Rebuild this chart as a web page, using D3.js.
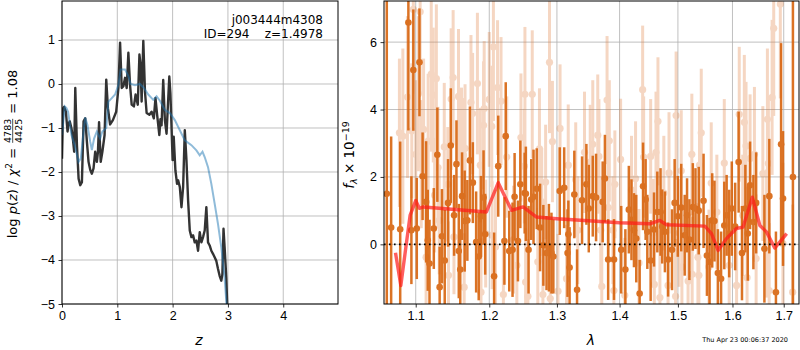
<!DOCTYPE html>
<html>
<head>
<meta charset="utf-8">
<script src="https://cdn.jsdelivr.net/npm/d3@7"></script>
<style>
body{margin:0;background:#fff}
svg{font-family:"DejaVu Sans",sans-serif}
.tick text{font-size:12.5px;fill:#000}
.tick line{stroke:#000;stroke-width:0.8}
.domain{display:none}
</style>
</head>
<body>
<svg id="fig" width="800" height="350"></svg>
<script>
// left panel: log p(z)
var zTicks = [0, 1, 2, 3, 4]
var pzTicks = [1, 0, -1, -2, -3, -4, -5]
var pzLine = [[0.00,-1.70],[0.02,-0.55],[0.04,-0.52],[0.07,-0.63],[0.10,-1.08],[0.12,-0.90],[0.14,-0.85],[0.17,-1.00],
  [0.19,-1.16],[0.22,-1.54],[0.24,-0.09],[0.27,-1.39],[0.30,-2.15],[0.33,-2.30],[0.36,-2.23],[0.39,-0.85],[0.42,-0.78],
  [0.45,-1.31],[0.48,-1.77],[0.51,-1.95],[0.54,-2.04],[0.57,-1.92],[0.60,-1.54],[0.63,-1.77],[0.65,-1.54],[0.67,-0.87],
  [0.70,-1.77],[0.73,-1.54],[0.77,-1.16],[0.80,0.10],[0.83,-0.55],[0.87,-0.92],[0.92,-0.82],[0.98,-0.63],[1.02,-0.09],
  [1.05,0.94],[1.08,-0.09],[1.11,-0.05],[1.14,0.14],[1.17,-0.09],[1.20,0.71],[1.23,-0.02],[1.26,-0.47],[1.30,-0.51],
  [1.33,-0.24],[1.37,-0.47],[1.40,0.67],[1.42,0.44],[1.44,-0.40],[1.47,0.98],[1.50,-0.17],[1.53,-0.66],[1.58,-0.70],
  [1.62,-0.63],[1.66,-0.78],[1.69,-0.32],[1.72,-0.70],[1.76,-1.16],[1.78,-0.80],[1.80,-0.94],[1.83,0.09],[1.86,-0.82],
  [1.89,-1.13],[1.94,0.17],[1.96,-0.21],[2.00,-1.73],[2.02,-1.20],[2.05,-1.96],[2.08,-2.27],[2.10,-2.19],[2.13,-2.34],
  [2.16,-2.80],[2.19,-2.34],[2.22,-1.05],[2.25,-1.73],[2.28,-2.65],[2.31,-3.33],[2.34,-3.48],[2.37,-3.44],[2.40,-3.60],
  [2.43,-3.56],[2.46,-3.79],[2.49,-3.37],[2.52,-3.60],[2.55,-3.48],[2.58,-3.33],[2.61,-2.80],[2.64,-3.60],[2.67,-3.67],
  [2.70,-3.79],[2.73,-3.86],[2.76,-3.94],[2.79,-4.02],[2.82,-4.20],[2.85,-4.36],[2.88,-4.47],[2.90,-4.32],[2.92,-3.29],
  [2.94,-3.71],[2.97,-4.40],[2.99,-5.10],[3.00,-5.50]]
var priorLine = [[0.00,-1.16],[0.05,-0.51],[0.08,-0.55],[0.11,-0.63],[0.17,-1.16],[0.23,-1.39],[0.30,-1.77],[0.34,-1.69],
  [0.39,-1.08],[0.42,-0.76],[0.46,-0.93],[0.51,-1.31],[0.54,-1.50],[0.58,-1.24],[0.63,-1.08],[0.69,-1.24],[0.73,-1.08],
  [0.80,-1.00],[0.84,-0.40],[0.90,-0.32],[0.96,-0.24],[1.02,-0.02],[1.06,0.33],[1.14,0.33],[1.20,0.18],[1.24,0.00],
  [1.32,-0.03],[1.41,0.00],[1.48,-0.09],[1.56,-0.24],[1.65,-0.36],[1.71,-0.28],[1.77,-0.38],[1.86,-0.59],[1.95,-0.66],
  [2.04,-0.82],[2.13,-1.05],[2.22,-1.28],[2.34,-1.39],[2.43,-1.51],[2.49,-1.62],[2.54,-1.54],[2.58,-1.66],[2.64,-1.89],
  [2.70,-2.27],[2.76,-2.72],[2.82,-3.18],[2.88,-3.71],[2.94,-4.40],[2.97,-4.93],[2.99,-5.30]]

// right panel: spectrum  [lambda, flux, err]
var lamTicks = [1.1, 1.2, 1.3, 1.4, 1.5, 1.6, 1.7]
var fluxTicks = [0, 2, 4, 6]
var lightPts = [[1.079,3.31,2.2],[1.0834,3.21,2.6],[1.0893,4.37,2.4],[1.0949,3.37,2.0],[1.0969,6.97,2.5],[1.100,2.67,2.2],
  [1.1035,4.47,2.3],[1.1058,6.9,2.4],[1.1072,2.38,1.9],[1.1103,3.41,2.1],[1.1136,-0.38,1.8],[1.1163,3.06,2.0],
  [1.1204,5.05,2.3],[1.1231,4.43,2.0],[1.1249,1.46,1.7],[1.1272,4.92,2.2],[1.1294,2.28,1.8],[1.131,0.71,1.6],
  [1.1378,2.89,1.9],[1.1425,1.78,1.7],[1.1435,-0.92,1.6],[1.1471,4.31,2.1],[1.1498,4.95,2.0],[1.1509,0.22,1.7],
  [1.1571,4.39,2.0],[1.1612,2.85,1.8],[1.1639,2.64,1.7],[1.1649,-1.27,1.6],[1.1661,2.85,1.9],[1.1743,4.21,2.0],
  [1.1766,3.88,1.8],[1.1833,4.77,2.1],[1.1874,2.35,1.7],[1.1883,-1.42,1.6],[1.1919,3.53,1.9],[1.1928,4.03,2.0],
  [1.1949,0.32,1.6],[1.2,4.3,2.0],[1.2035,3.5,1.8],[1.204,0.27,1.6],[1.2059,5.86,2.2],[1.2089,-0.08,1.7],
  [1.2118,4.65,2.0],[1.2168,4.25,1.9],[1.2202,-1.49,1.6],[1.2251,2.59,1.8],[1.2349,0.14,1.6],[1.2398,-0.62,1.7],
  [1.2458,3.17,1.9],[1.2508,2.32,1.7],[1.2517,4.45,2.0],[1.2527,-1.12,1.6],[1.2561,-1.54,1.7],[1.2626,4.45,1.9],
  [1.2709,-0.52,1.6],[1.2734,2.83,1.8],[1.2768,1.26,1.6],[1.2786,-1.49,1.7],[1.2827,1.85,1.7],[1.2886,5.4,2.1],
  [1.2898,-1.61,1.6],[1.2931,3.05,1.8],[1.3016,-1.39,1.7],[1.3048,3.44,1.9],[1.3148,-1.02,1.6],[1.3175,2.35,1.8],
  [1.3292,1.92,1.7],[1.3324,0.42,1.6],[1.3431,2.73,1.8],[1.3522,2.44,1.7],[1.3563,2.97,1.9],[1.3643,3.24,1.8],
  [1.3662,2.61,1.7],[1.3692,0.42,1.6],[1.3708,-1.25,1.7],[1.3794,4.28,1.9],[1.3815,1.09,1.6],[1.3831,3.07,1.8],
  [1.389,0.42,1.6],[1.3906,-1.37,1.7],[1.3922,1.78,1.6],[1.4017,2.52,1.8],[1.4086,-1.51,1.7],[1.4199,1.62,1.6],
  [1.4267,1.95,1.7],[1.4325,-0.55,1.6],[1.4387,4.59,1.9],[1.4404,2.59,1.8],[1.4524,2.61,1.7],[1.457,0.34,1.6],
  [1.4587,-1.19,1.7],[1.4616,2.73,1.8],[1.465,3.65,1.9],[1.4684,-1.58,1.6],[1.4752,1.52,1.7],[1.4826,-1.22,1.6],
  [1.4843,2.12,1.8],[1.4958,-1.54,1.7],[1.4968,3.82,1.9],[1.5022,0.34,1.6],[1.5059,2.18,1.8],[1.5071,-0.67,1.7],
  [1.5181,-1.09,1.6],[1.5249,2.67,1.8],[1.5255,-0.89,1.7],[1.5359,-0.38,1.6],[1.5377,-0.92,1.7],[1.5388,2.35,1.8],
  [1.542,3.31,1.9],[1.5561,-0.67,1.7],[1.5603,1.82,1.8],[1.5707,0.96,1.7],[1.5846,2.41,1.9],[1.5938,-0.62,1.8],
  [1.6078,-1.22,1.8],[1.6129,3.86,2.0],[1.6195,0.86,1.8],[1.6226,3.62,2.0],[1.6259,2.92,1.9],[1.6279,-0.99,1.8],
  [1.6337,2.55,1.9],[1.6421,2.67,2.0],[1.6454,-0.42,1.9],[1.6585,2.1,2.0],[1.6659,0.32,1.9],[1.6675,3.71,2.1],
  [1.6694,2.4,2.0],[1.671,-1.37,2.0],[1.6768,4.36,2.3],[1.68,6.41,2.6],[1.6932,7.13,2.8],[1.6984,0.02,2.4],
  [1.718,-1.42,2.6]]
var darkPts = [[1.063,1.5,9],[1.0685,0.5,2.7],[1.080,0.45,2.6],[1.0905,6.58,3.2],[1.0944,0.42,1.6],[1.0969,5.17,1.8],
  [1.1014,0.47,1.5],[1.1049,5.4,1.6],[1.109,2.02,1.3],[1.1136,1.26,1.8],[1.1158,0.12,1.5],[1.1181,-0.57,1.3],
  [1.1238,0.47,1.2],[1.1285,2.66,1.4],[1.1316,-1.27,1.2],[1.1347,0.24,1.4],[1.1384,-0.48,1.5],[1.1429,1.23,1.3],
  [1.1466,2.93,1.7],[1.1511,0.86,1.2],[1.1543,2.38,1.3],[1.1575,-0.2,1.4],[1.1595,-0.75,1.2],[1.162,1.43,1.3],
  [1.1656,0.69,1.5],[1.1693,0.71,1.2],[1.1728,2.49,1.6],[1.1769,1.83,1.2],[1.1815,0.07,1.5],[1.1851,-0.36,1.3],
  [1.1883,0.83,1.2],[1.1919,1.39,1.4],[1.1942,0.3,1.2],[1.2069,-0.95,1.3],[1.2128,2.32,1.5],[1.2217,0.1,1.3],
  [1.2236,3.21,1.6],[1.2287,-0.2,1.2],[1.2335,-0.16,1.4],[1.2365,1.41,1.3],[1.2414,0.1,1.2],[1.2449,1.78,1.3],
  [1.2513,1.52,1.2],[1.2531,1.5,1.4],[1.2571,-0.16,1.3],[1.2611,1.33,1.2],[1.2645,1.41,1.4],[1.2693,1.65,1.2],
  [1.2743,0.5,1.3],[1.2793,-0.03,1.2],[1.2841,-0.26,1.1],[1.2877,-0.1,1.3],[1.2916,-0.26,1.2],[1.2945,-0.36,1.1],
  [1.3043,1.58,1.3],[1.3112,1.68,1.2],[1.3164,-0.26,1.3],[1.3177,0.3,1.0],[1.3196,-0.69,1.2],[1.327,1.48,1.3],
  [1.3313,-1.35,1.2],[1.3392,1.31,1.3],[1.3461,1.78,1.2],[1.3499,1.06,1.3],[1.3563,1.43,1.2],[1.3616,1.39,1.3],
  [1.3723,1.26,1.2],[1.3759,1.95,1.3],[1.3812,-0.45,1.2],[1.3908,-0.45,1.2],[1.4027,-0.16,1.3],[1.4096,-0.75,1.2],
  [1.4154,1.03,1.3],[1.4198,0.73,1.2],[1.424,0.42,1.1],[1.4279,0.17,1.3],[1.4336,-1.46,1.0],[1.4394,1.72,1.3],
  [1.4438,1.33,1.2],[1.4467,0.37,1.1],[1.4524,-0.48,1.2],[1.4582,0.44,1.1],[1.4639,0.96,1.2],[1.4695,0.96,1.3],
  [1.4724,0.53,1.1],[1.4771,0.37,1.2],[1.4827,-0.45,1.1],[1.4896,-0.16,1.2],[1.4942,1.23,1.3],[1.4998,0.83,1.2],
  [1.5059,1.09,1.3],[1.5121,0.27,1.2],[1.5163,0.86,1.1],[1.5205,0.14,1.2],[1.5267,1.11,1.3],[1.5315,1.06,1.2],
  [1.5374,1.0,1.3],[1.5462,1.29,1.4],[1.5524,-0.33,1.2],[1.5572,-0.52,1.3],[1.5621,0.71,1.4],[1.5663,0.69,1.2],
  [1.5726,-0.85,1.3],[1.5786,-1.02,1.4],[1.5846,0.56,1.3],[1.589,0.86,1.2],[1.5938,0.32,1.3],[1.5987,1.06,1.4],
  [1.6051,0.53,1.3],[1.6117,2.44,1.5],[1.6181,-0.26,1.4],[1.6246,1.06,1.3],[1.6292,0.32,1.4],[1.6337,1.75,1.3],
  [1.6401,0.66,1.4],[1.6454,1.23,1.5],[1.6616,-0.13,1.6],[1.6713,1.43,1.7],[1.6844,-1.42,1.8],[1.6947,2.97,3.0],
  [1.6986,1.36,2.0],[1.7186,2.0,9]]
var modelLine = [[1.0740,-0.25],[1.0808,-1.22],[1.0927,0.86],[1.1000,1.30],[1.1047,1.07],[1.1100,1.11],[1.1960,0.96],
  [1.2128,1.83],[1.2320,1.01],[1.2490,1.11],[1.2690,0.81],[1.3000,0.76],[1.4000,0.64],[1.4510,0.61],[1.4680,0.71],
  [1.4800,0.58],[1.5486,0.54],[1.5608,0.32],[1.5730,-0.18],[1.5886,0.17],[1.6075,0.47],[1.6200,0.51],[1.6380,1.40],
  [1.6527,0.56],[1.6657,0.37],[1.6820,-0.11],[1.7060,0.32]]

var svg = d3.select("#fig")

var zx = d3.scaleLinear().domain([0, 4.99]).range([62, 338])
var zy = d3.scaleLinear().domain([-5, 1.886]).range([304, 1])
var lx = d3.scaleLog().domain([1.0595, 1.731]).range([384, 799])
var fy = d3.scaleLinear().domain([-1.77, 7.22]).range([304, 1])

var defs = svg.append("defs")
defs.append("clipPath").attr("id", "clipL").append("rect")
    .attr("x", 62).attr("y", 1).attr("width", 276).attr("height", 303)
defs.append("clipPath").attr("id", "clipR").append("rect")
    .attr("x", 384).attr("y", 1).attr("width", 415).attr("height", 303)

function grid(g, xs, ys, xt, yt){
    g.selectAll(".gx").data(xt).enter().append("line")
        .attr("x1", d => xs(d)).attr("x2", d => xs(d))
        .attr("y1", ys.range()[0]).attr("y2", ys.range()[1])
        .style("stroke", "#b0b0b0").style("stroke-width", 0.8)
    g.selectAll(".gy").data(yt).enter().append("line")
        .attr("x1", xs.range()[0]).attr("x2", xs.range()[1])
        .attr("y1", d => ys(d)).attr("y2", d => ys(d))
        .style("stroke", "#b0b0b0").style("stroke-width", 0.8)
}

//left panel
var gl = svg.append("g")
grid(gl, zx, zy, zTicks, pzTicks)
var pl = gl.append("g").attr("clip-path", "url(#clipL)")
var lineZ = d3.line().x(d => zx(d[0])).y(d => zy(d[1]))
pl.append("path").attr("d", lineZ(pzLine))
    .style("fill", "none").style("stroke", "#333").style("stroke-width", 2.4)
    .style("stroke-linejoin", "round")
pl.append("path").attr("d", lineZ(priorLine))
    .style("fill", "none").style("stroke", "#1f77b4").style("stroke-opacity", 0.5).style("stroke-width", 2)
gl.append("rect").attr("x", 62).attr("y", 1).attr("width", 276).attr("height", 303)
    .style("fill", "none").style("stroke", "#000").style("stroke-width", 1)
gl.append("g").attr("transform", "translate(0,304)")
    .call(d3.axisBottom(zx).tickValues(zTicks).tickFormat(d3.format("d")).tickSize(3.5).tickPadding(3.5))
gl.append("g").attr("transform", "translate(62,0)")
    .call(d3.axisLeft(zy).tickValues(pzTicks).tickFormat(d3.format("d")).tickSize(3.5).tickPadding(3.5))

gl.append("text").attr("x", 323).attr("y", 24).attr("text-anchor", "end")
    .style("font-size", "12px").text("j003444m4308")
gl.append("text").attr("x", 323).attr("y", 38).attr("text-anchor", "end")
    .style("font-size", "12px").style("white-space", "pre").text("ID=294    z=1.4978")
gl.append("text").attr("x", 199).attr("y", 345).attr("text-anchor", "middle")
    .style("font-size", "14px").style("font-style", "italic").text("z")

// rotated y label with fraction
var yl = svg.append("g").attr("transform", "translate(17,154) rotate(-90)")
var inner = yl.append("g")
var t1 = inner.append("text").style("font-size", "13px")
t1.append("tspan").text("log ")
t1.append("tspan").style("font-style", "italic").text("p")
t1.append("tspan").text("(")
t1.append("tspan").style("font-style", "italic").text("z")
t1.append("tspan").text(") / ")
t1.append("tspan").style("font-style", "italic").text("χ")
t1.append("tspan").attr("dy", -5).style("font-size", "9px").text("2")
t1.append("tspan").attr("dy", 5).text("\u00a0=\u00a0")
var w1 = t1.node().getComputedTextLength()
var fw = 24
inner.append("text").attr("x", w1 + fw / 2 + 1).attr("y", -6.5).attr("text-anchor", "middle")
    .style("font-size", "9.5px").text("4783")
inner.append("text").attr("x", w1 + fw / 2 + 1).attr("y", 4.5).attr("text-anchor", "middle")
    .style("font-size", "9.5px").text("4425")
inner.append("line").attr("x1", w1 + 1).attr("x2", w1 + fw + 1).attr("y1", -4.3).attr("y2", -4.3)
    .style("stroke", "#000").style("stroke-width", 0.7)
var t2 = inner.append("text").attr("x", w1 + fw + 2).style("font-size", "13px").text("\u00a0=\u00a01.08")
var wAll = w1 + fw + 2 + t2.node().getComputedTextLength()
inner.attr("transform", "translate(" + (-wAll / 2) + ",0)")

//right panel
var gr = svg.append("g")
grid(gr, lx, fy, lamTicks, fluxTicks)
var pr = gr.append("g").attr("clip-path", "url(#clipR)")

var light = pr.append("g").style("opacity", 0.3)
light.selectAll("line").data(lightPts).enter().append("line")
    .attr("x1", d => lx(d[0])).attr("x2", d => lx(d[0]))
    .attr("y1", d => fy(d[1] - d[2])).attr("y2", d => fy(d[1] + d[2]))
    .style("stroke", "#e07b39").style("stroke-width", 3)
light.selectAll("circle").data(lightPts).enter().append("circle")
    .attr("cx", d => lx(d[0])).attr("cy", d => fy(d[1])).attr("r", 3.6)
    .style("fill", "#e07b39")

var dark = pr.append("g").style("opacity", 0.9)
dark.selectAll("line").data(darkPts).enter().append("line")
    .attr("x1", d => lx(d[0])).attr("x2", d => lx(d[0]))
    .attr("y1", d => fy(d[1] - d[2])).attr("y2", d => fy(d[1] + d[2]))
    .style("stroke", "#d8640e").style("stroke-width", 2.5)
dark.selectAll("circle").data(darkPts).enter().append("circle")
    .attr("cx", d => lx(d[0])).attr("cy", d => fy(d[1])).attr("r", 3.3)
    .style("fill", "#d8640e")

pr.append("path").attr("d", d3.line().x(d => lx(d[0])).y(d => fy(d[1]))(modelLine))
    .style("fill", "none").style("stroke", "#ff1a1a").style("stroke-opacity", 0.7)
    .style("stroke-width", 3.4).style("stroke-linejoin", "round")
pr.append("line").attr("x1", 384).attr("x2", 799).attr("y1", fy(0)).attr("y2", fy(0))
    .style("stroke", "#000").style("stroke-width", 1.6).style("stroke-dasharray", "1.6,3.4")

gr.append("rect").attr("x", 384).attr("y", 1).attr("width", 415).attr("height", 303)
    .style("fill", "none").style("stroke", "#000").style("stroke-width", 1)
gr.append("g").attr("transform", "translate(0,304)")
    .call(d3.axisBottom(lx).tickValues(lamTicks).tickFormat(d3.format(".1f")).tickSize(3.5).tickPadding(3.5))
gr.append("g").attr("transform", "translate(384,0)")
    .call(d3.axisLeft(fy).tickValues(fluxTicks).tickFormat(d3.format("d")).tickSize(3.5).tickPadding(3.5))

gr.append("text").attr("x", 591).attr("y", 345).attr("text-anchor", "middle")
    .style("font-size", "14px").style("font-style", "italic").text("λ")

var yr = gr.append("text").attr("transform", "translate(354,155) rotate(-90)")
    .attr("text-anchor", "middle").style("font-size", "13.5px")
yr.append("tspan").style("font-style", "italic").text("f")
yr.append("tspan").attr("dy", 3).style("font-size", "9.5px").style("font-style", "italic").text("λ")
yr.append("tspan").attr("dy", -3).text("\u00a0×\u00a010")
yr.append("tspan").attr("dy", -5.5).style("font-size", "9.5px").text("−19")

svg.append("text").attr("x", 788).attr("y", 342).attr("text-anchor", "end")
    .style("font-size", "6.5px").text("Thu Apr 23 00:06:37 2020")
</script>
</body>
</html>
